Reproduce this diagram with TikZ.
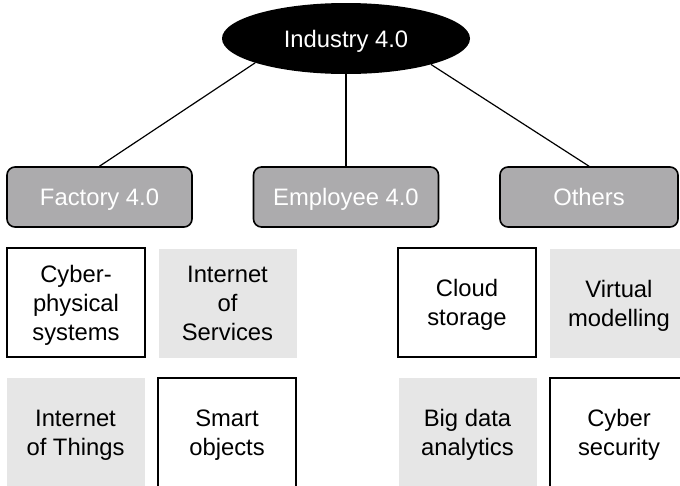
\documentclass[tikz,border=0pt]{standalone}
\usepackage{fontspec}
\setmainfont{Liberation Sans}
\usetikzlibrary{shapes.geometric}
\definecolor{midgray}{RGB}{172,171,173}
\definecolor{lightgray}{RGB}{230,230,230}
\tikzset{
  txt/.style={font=\fontsize{23.8}{29}\selectfont, align=center, inner sep=0pt, text depth=0pt},
  topnode/.style={txt, ellipse, fill=black, text=white, minimum width=248, minimum height=71},
  catbox/.style={txt, draw=black, line width=1.6pt, rounded corners=8pt, fill=midgray, text=white, minimum height=60},
  whitebox/.style={txt, draw=black, line width=1.6pt, fill=white, minimum width=138, minimum height=109},
  graybox/.style={txt, fill=lightgray, minimum width=138, minimum height=109},
  conn/.style={line width=1.2pt}
}
\begin{document}
\begin{tikzpicture}[x=1pt,y=-1pt]
\useasboundingbox (0,0) rectangle (680,485);
\clip (0,0) rectangle (680,485);
\node[topnode] (top) at (346,38.5) {Industry 4.0};
\node[catbox, minimum width=185] (fac) at (99.5,197) {Factory 4.0};
\node[catbox, minimum width=185] (emp) at (346,197) {Employee 4.0};
\node[catbox, minimum width=178] (oth) at (589,197) {Others};
\draw[conn] (top.195.6) -- (fac.north);
\draw[conn] (top.south) -- (emp.north);
\draw[conn] (top.343) -- (oth.north);
% top row
\node[whitebox] (cps) at (76,302.5) {Cyber-\\physical\\systems};
\node[graybox] (ios) at (227.5,303) {Internet\\of\\Services};
\node[whitebox] (cloud) at (467,302.5) {Cloud\\storage};
\node[graybox] (vm) at (619,303) {Virtual\\modelling};
% bottom row
\node[graybox] (iot) at (75.5,432.5) {Internet\\of Things};
\node[whitebox] (smart) at (227,432.5) {Smart\\objects};
\node[graybox] (bda) at (467.5,432.5) {Big data\\analytics};
\node[whitebox] (cyb) at (619,432.5) {Cyber\\security};
\end{tikzpicture}
\end{document}
